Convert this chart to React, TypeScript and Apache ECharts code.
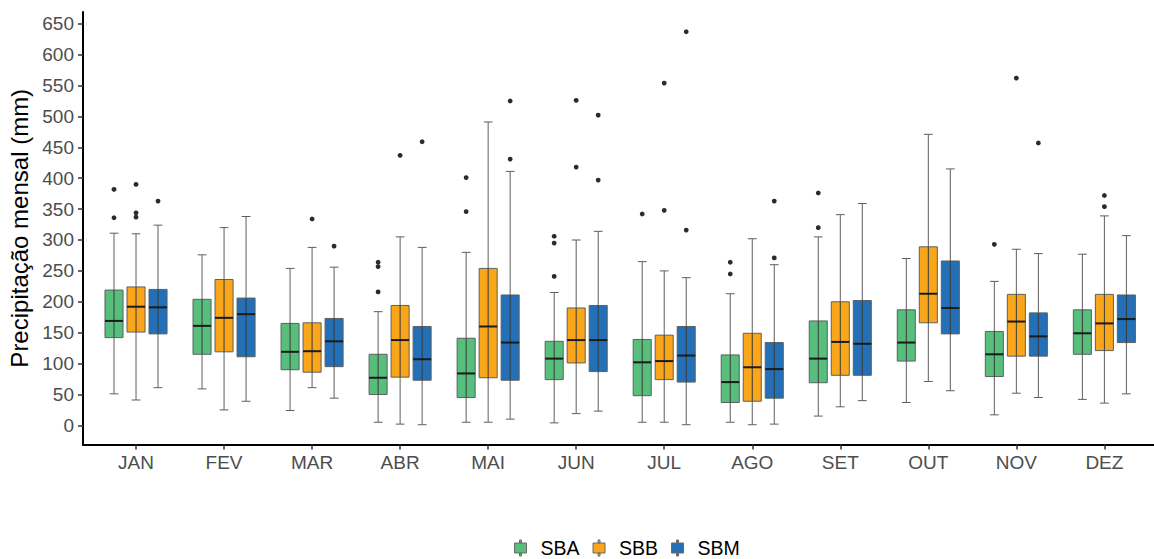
import React, { useEffect, useRef } from "react";
import * as echarts from "echarts";

const MONTHS = ["JAN", "FEV", "MAR", "ABR", "MAI", "JUN", "JUL", "AGO", "SET", "OUT", "NOV", "DEZ"];
const Y_TICKS = [0, 50, 100, 150, 200, 250, 300, 350, 400, 450, 500, 550, 600, 650];
const GROUPS = ["SBA", "SBB", "SBM"];
const COLORS = ["#57BE7C", "#F9A61A", "#2370B6"];

// [lower whisker, Q1, median, Q3, upper whisker]
const SBA_STATS = [
  [51, 142, 169, 219, 311],
  [59, 115, 161, 204, 276],
  [24, 90, 119, 165, 254],
  [5, 50, 77, 115, 184],
  [5, 45, 84, 141, 280],
  [4, 74, 108, 136, 215],
  [5, 48, 102, 139, 265],
  [5, 37, 70, 114, 213],
  [15, 69, 108, 169, 305],
  [37, 104, 134, 187, 270],
  [17, 79, 115, 152, 233],
  [42, 115, 149, 187, 277],
];
const SBB_STATS = [
  [41, 151, 192, 224, 310],
  [25, 119, 174, 236, 320],
  [61, 86, 120, 166, 288],
  [2, 78, 138, 194, 305],
  [5, 77, 160, 254, 491],
  [19, 101, 138, 190, 300],
  [5, 74, 104, 146, 250],
  [1, 39, 94, 149, 302],
  [30, 81, 135, 200, 341],
  [71, 166, 213, 289, 471],
  [52, 112, 168, 212, 285],
  [36, 121, 165, 212, 339],
];
const SBM_STATS = [
  [61, 148, 191, 220, 324],
  [39, 111, 180, 206, 338],
  [44, 95, 136, 173, 256],
  [1, 73, 107, 160, 288],
  [10, 73, 134, 211, 411],
  [23, 87, 138, 194, 314],
  [1, 70, 113, 160, 239],
  [2, 44, 91, 134, 260],
  [40, 81, 132, 202, 359],
  [56, 148, 190, 266, 415],
  [45, 112, 144, 182, 278],
  [51, 134, 172, 211, 307],
];

// [month index, value]
const SBA_OUTLIERS = [
  [0, 382], [0, 336],
  [3, 264], [3, 257], [3, 216],
  [4, 401], [4, 346],
  [5, 306], [5, 295], [5, 241],
  [6, 342],
  [7, 264], [7, 245],
  [8, 376], [8, 320],
  [10, 293],
];
const SBB_OUTLIERS = [
  [0, 390], [0, 344], [0, 337],
  [2, 334],
  [3, 437],
  [5, 526], [5, 418],
  [6, 554], [6, 348],
  [10, 562],
  [11, 372], [11, 354],
];
const SBM_OUTLIERS = [
  [0, 363],
  [2, 290],
  [3, 459],
  [4, 525], [4, 431],
  [5, 502], [5, 397],
  [6, 637], [6, 316],
  [7, 363], [7, 271],
  [10, 457],
];

const STATS = [SBA_STATS, SBB_STATS, SBM_STATS];
const OUTLIERS = [SBA_OUTLIERS, SBB_OUTLIERS, SBM_OUTLIERS];
const DODGE = [-0.25, 0, 0.25];

const FONT = "Liberation Sans, Arial, Helvetica, sans-serif";

function makeBoxRender(dodge: number, color: string) {
  return (params: any, api: any) => {
    const cat = api.value(0);
    const band = api.size([1, 0])[0];
    const cx = api.coord([cat, 0])[0] + dodge * band;
    const w = band * 0.205;
    const capW = band * 0.1;
    const yLow = api.coord([cat, api.value(1)])[1];
    const yQ1 = api.coord([cat, api.value(2)])[1];
    const yMed = api.coord([cat, api.value(3)])[1];
    const yQ3 = api.coord([cat, api.value(4)])[1];
    const yHigh = api.coord([cat, api.value(5)])[1];
    const whisk = { stroke: "#5e5e5e", lineWidth: 1 };
    return {
      type: "group",
      children: [
        { type: "line", shape: { x1: cx, y1: yQ3, x2: cx, y2: yHigh }, style: whisk },
        { type: "line", shape: { x1: cx, y1: yQ1, x2: cx, y2: yLow }, style: whisk },
        { type: "line", shape: { x1: cx - capW / 2, y1: yHigh, x2: cx + capW / 2, y2: yHigh }, style: whisk },
        { type: "line", shape: { x1: cx - capW / 2, y1: yLow, x2: cx + capW / 2, y2: yLow }, style: whisk },
        {
          type: "rect",
          shape: { x: cx - w / 2, y: yQ3, width: w, height: yQ1 - yQ3 },
          style: { fill: color, stroke: "#5f5f5f", lineWidth: 1 },
        },
        { type: "line", shape: { x1: cx, y1: yQ3, x2: cx, y2: yQ1 }, style: { stroke: "#3a3a3a", lineWidth: 1 } },
        {
          type: "line",
          shape: { x1: cx - w / 2, y1: yMed, x2: cx + w / 2, y2: yMed },
          style: { stroke: "#1a1a1a", lineWidth: 2 },
        },
      ],
    };
  };
}

function makeOutlierRender(dodge: number) {
  return (params: any, api: any) => {
    const cat = api.value(0);
    const band = api.size([1, 0])[0];
    const pt = api.coord([cat, api.value(1)]);
    return {
      type: "circle",
      shape: { cx: pt[0] + dodge * band, cy: pt[1], r: 2.4 },
      style: { fill: "#2b2b2b" },
    };
  };
}

const Y_MIN = -31;
const Y_MAX = 669;

export default function App() {
  const ref = useRef<HTMLDivElement>(null);

  useEffect(() => {
    document.body.style.margin = "0";
    const chart = echarts.init(ref.current!, null, { renderer: "svg" });

    const boxSeries = GROUPS.map((g, i) => ({
      name: g,
      type: "custom",
      xAxisIndex: 0,
      yAxisIndex: 0,
      itemStyle: { color: COLORS[i], borderColor: "#5f5f5f" },
      encode: { x: 0, y: [1, 2, 3, 4, 5] },
      data: STATS[i].map((s, m) => [m, ...s]),
      renderItem: makeBoxRender(DODGE[i], COLORS[i]),
      z: 2,
    }));
    const outSeries = GROUPS.map((g, i) => ({
      name: g + " outliers",
      type: "custom",
      xAxisIndex: 0,
      yAxisIndex: 0,
      encode: { x: 0, y: 1 },
      data: OUTLIERS[i],
      renderItem: makeOutlierRender(DODGE[i]),
      z: 3,
    }));

    const option: any = {
      animation: false,
      backgroundColor: "#ffffff",
      textStyle: { fontFamily: FONT },
      grid: [
        { left: 92, right: 5.6, top: 12, bottom: 114.5, containLabel: false, outerBoundsMode: "none" },
        { left: 83, right: -6, top: 12, bottom: 114.5, containLabel: false, outerBoundsMode: "none" },
      ],
      xAxis: [
        {
          type: "category",
          gridIndex: 0,
          data: MONTHS,
          boundaryGap: true,
          axisLine: { show: false, onZero: false },
          axisTick: { show: true, alignWithLabel: true, length: 5, lineStyle: { color: "#333333", width: 1.5 } },
          axisLabel: { color: "#4d4d4d", fontSize: 19, margin: 8, fontFamily: FONT },
          splitLine: { show: false },
        },
        {
          type: "value",
          gridIndex: 1,
          min: 0,
          max: 1,
          axisLine: { show: true, onZero: false, lineStyle: { color: "#000000", width: 2 } },
          axisTick: { show: false },
          axisLabel: { show: false },
          splitLine: { show: false },
        },
      ],
      yAxis: [
        {
          type: "value",
          gridIndex: 0,
          min: Y_MIN,
          max: Y_MAX,
          show: false,
          splitLine: { show: false },
        },
        {
          type: "value",
          gridIndex: 1,
          min: Y_MIN,
          max: Y_MAX,
          name: "Precipitação mensal (mm)",
          nameLocation: "middle",
          nameGap: 49,
          nameTextStyle: { color: "#000000", fontSize: 24, fontFamily: FONT },
          axisLine: { show: true, onZero: false, lineStyle: { color: "#000000", width: 2 } },
          axisTick: { show: true, length: 5, customValues: Y_TICKS, lineStyle: { color: "#333333", width: 1.5 } },
          axisLabel: { show: true, customValues: Y_TICKS, color: "#4d4d4d", fontSize: 19, margin: 9, fontFamily: FONT },
          splitLine: { show: false },
        },
      ],
      legend: {
        data: GROUPS.map((g, i) => ({
          name: g,
          icon: "path://M5,0h2v3h-2z M0,3h12v10h-12z M5,13h2v3h-2z",
          itemStyle: { color: COLORS[i], borderColor: "#6a6a6a", borderWidth: 1 },
        })),
        left: 509,
        top: 533,
        itemWidth: 12,
        itemHeight: 16,
        itemGap: 13,
        textStyle: { color: "#000000", fontSize: 19.5, fontFamily: FONT, padding: [0, 0, 0, 9] },
        selectedMode: false,
      },
      series: [...boxSeries, ...outSeries],
    };

    chart.setOption(option);
    return () => chart.dispose();
  }, []);

  return <div ref={ref} style={{ width: 1154, height: 559 }} />;
}
